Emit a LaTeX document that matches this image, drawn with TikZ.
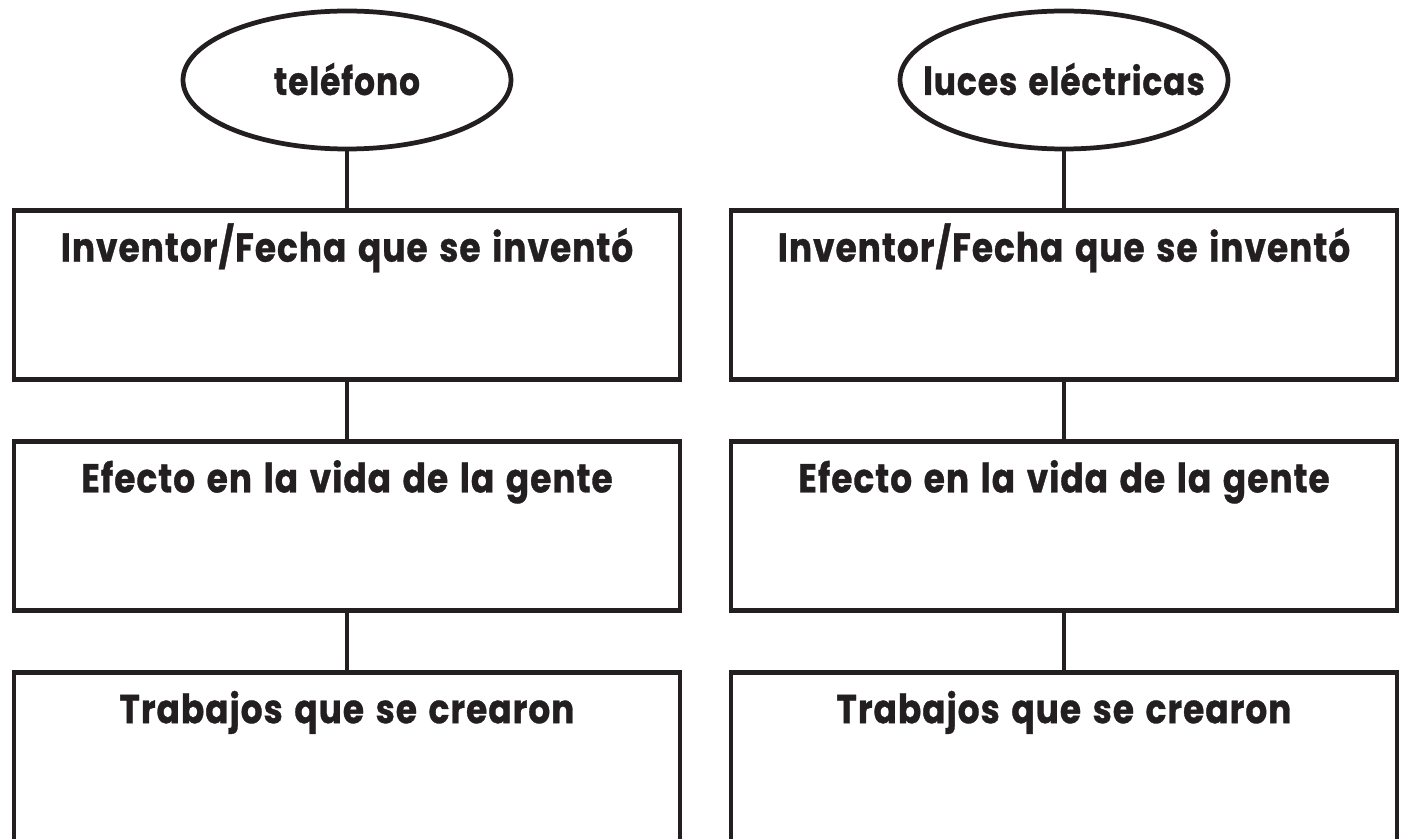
\documentclass[tikz,border=0pt]{standalone}
\usepackage{xcolor}
\usepackage{fontspec}
\setmainfont{Poppins}[FakeStretch=0.85, LetterSpace=2.5, WordSpace=1.4, BoldFeatures={FakeBold=0.8}]
\usepackage{tikz}
\usetikzlibrary{shapes.geometric, positioning}
\definecolor{ink}{HTML}{231F20}

\begin{document}
\begin{tikzpicture}[node distance={1.14cm}, line width=2.7pt, color=ink, oval/.style = {draw, ellipse, minimum width=6.56cm, minimum height=2.76cm, inner sep=0pt}, word/.style = {inner sep=0pt, text height=0.6cm, text depth=0pt, font=\fontsize{22}{26}\selectfont\bfseries}, card/.style = {draw, rectangle, minimum width=13.32cm, inner sep=0pt, text height=1.02cm, text depth=2.36cm, font=\fontsize{23}{27}\selectfont\bfseries}]
\useasboundingbox (0,0) rectangle (28.06,16.76);
\clip (0,0) rectangle (28.06,16.76);
\node[oval] (1) at (6.94,15.16) {};
\node[word] (1t) at (1) {teléfono};
\node[card] (2) [below=of 1] {Inventor/Fecha que se inventó};
\node[card] (3) [below=of 2] {Efecto en la vida de la gente};
\node[card] (4) [below=of 3] {Trabajos que se crearon};
\node[oval] (5) at (21.28,15.16) {};
\node[word] (5t) at (5) {luces eléctricas};
\node[card] (6) [below=of 5] {Inventor/Fecha que se inventó};
\node[card] (7) [below=of 6] {Efecto en la vida de la gente};
\node[card] (8) [below=of 7] {Trabajos que se crearon};
\draw (1) -- (2);
\draw (2) -- (3);
\draw (3) -- (4);
\draw (5) -- (6);
\draw (6) -- (7);
\draw (7) -- (8);
\end{tikzpicture}
\end{document}
